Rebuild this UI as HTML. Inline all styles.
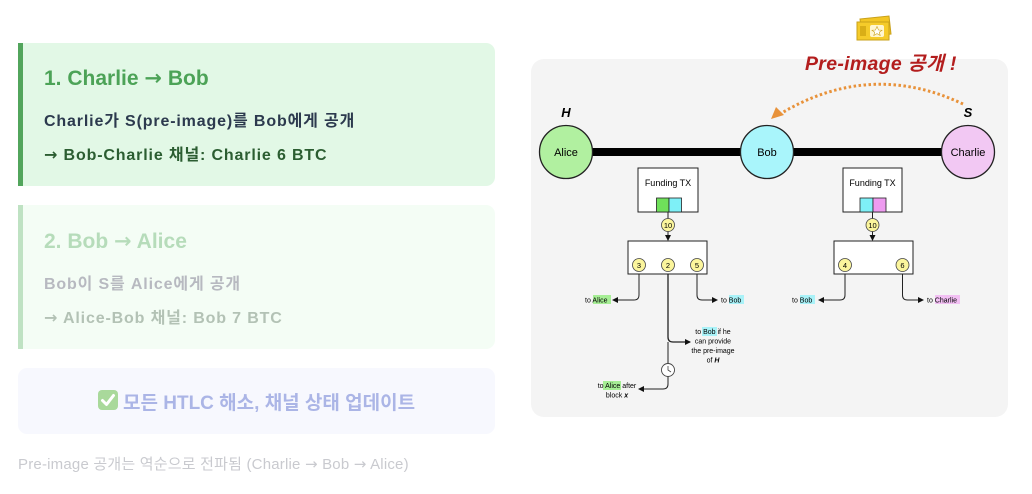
<!DOCTYPE html>
<html><head><meta charset="utf-8"><style>
*{margin:0;padding:0;box-sizing:border-box}
body{width:1032px;height:494px;background:#fff;position:relative;overflow:hidden;font-family:"Liberation Sans","Noto Sans CJK KR",sans-serif}
.card{position:absolute;left:18px;width:477px;border-radius:0 9px 9px 0}
.c1{top:43px;height:143px;background:#e2f8e6;border-left:5px solid #52a55c}
.c2{top:205px;height:144px;background:#f4fdf5;border-left:5px solid #bfe2c3}
.t{position:absolute;left:21px;font-weight:bold;white-space:nowrap}
.s{font-size:16px;letter-spacing:0.85px}
.c3{position:absolute;left:18px;top:368px;width:477px;height:66px;background:#f7f8fe;border-radius:9px}
.ar{font-family:"DejaVu Sans",sans-serif}
</style></head><body>
<div class="card c1">
 <div class="t" style="top:23px;font-size:21px;color:#4ca357">1. Charlie <span class="ar">→</span> Bob</div>
 <div class="t s" style="top:64px;color:#2c3a4e">Charlie가 S(pre-image)를 Bob에게 공개</div>
 <div class="t s" style="top:98px;color:#2b5d31"><span class="ar">→</span> Bob-Charlie 채널: Charlie 6 BTC</div>
</div>
<div class="card c2">
 <div class="t" style="top:24px;font-size:21px;color:#b6dcba">2. Bob <span class="ar">→</span> Alice</div>
 <div class="t s" style="top:65px;color:#b7b9c0">Bob이 S를 Alice에게 공개</div>
 <div class="t s" style="top:99px;color:#b3c2b5"><span class="ar">→</span> Alice-Bob 채널: Bob 7 BTC</div>
</div>
<div class="c3">
 <svg style="position:absolute;left:80px;top:22px" width="20" height="20" viewBox="0 0 20 20"><rect x="0" y="0" width="20" height="20" rx="4" fill="#a9d99b"/><path d="M4.5 10.5 L8.5 14.5 L15.5 5.5" stroke="#fff" stroke-width="3" fill="none" stroke-linecap="round" stroke-linejoin="round"/></svg>
 <div style="position:absolute;left:105px;top:20px;font-size:19px;font-weight:bold;color:#abb5e6;white-space:nowrap">모든 HTLC 해소, 채널 상태 업데이트</div>
</div>
<div style="position:absolute;left:18px;top:453px;font-size:15px;letter-spacing:0.2px;color:#c9cacf;white-space:nowrap">Pre-image 공개는 역순으로 전파됨 (Charlie <span class="ar">→</span> Bob <span class="ar">→</span> Alice)</div>

<svg style="position:absolute;left:0;top:0" width="1032" height="494" viewBox="0 0 1032 494" font-family="Liberation Sans, sans-serif">
 <defs>
  <marker id="ar" markerWidth="6" markerHeight="6" refX="5" refY="3" orient="auto" markerUnits="userSpaceOnUse"><path d="M0 0 L6 3 L0 6 Z" fill="#111"/></marker>
 </defs>
 <rect x="531" y="59" width="477" height="358" rx="13" fill="#f4f4f4"/>
 <!-- ticket icon -->
 <g transform="translate(856,16)">
  <path d="M4 3 L33 0 L35 18 L6 21 Z" fill="#f3c623" stroke="#c9a11a" stroke-width="1"/>
  <rect x="1" y="6" width="32" height="18" fill="#f5cb2a" stroke="#c9a11a" stroke-width="1"/>
  <rect x="4" y="10" width="6" height="10" fill="#d9ae17"/>
  <rect x="14" y="9" width="14" height="12" rx="2" fill="#fff6d0"/>
  <path d="M21 10.5 L22.5 14 L26 14.2 L23.3 16.3 L24.2 19.5 L21 17.6 L17.8 19.5 L18.7 16.3 L16 14.2 L19.5 14 Z" fill="#fff" stroke="#c9a11a" stroke-width="0.6"/>
 </g>
 <text x="805" y="70" font-size="19.5" letter-spacing="0.3" font-weight="bold" font-style="italic" fill="#b31d1d" font-family="Liberation Sans, Noto Sans CJK KR, sans-serif">Pre-image 공개 !</text>
 <!-- orange dotted arc -->
 <path d="M963 104 Q870 60 780 114" stroke="#e8923a" stroke-width="3" fill="none" stroke-dasharray="2.5 2.5"/>
 <path d="M771 119 L776 107 L784 115 Z" fill="#e8923a"/>
 <!-- channel line -->
 <rect x="590" y="148" width="360" height="8" fill="#000"/>
 <text x="566" y="117" font-size="13" font-weight="bold" font-style="italic" text-anchor="middle">H</text>
 <text x="968" y="117" font-size="13" font-weight="bold" font-style="italic" text-anchor="middle">S</text>
 <circle cx="566" cy="152" r="26.5" fill="#b1f0a0" stroke="#222" stroke-width="1.3"/>
 <circle cx="767" cy="152" r="26.5" fill="#a9f5fb" stroke="#222" stroke-width="1.3"/>
 <circle cx="968" cy="152" r="26.5" fill="#f2c8f3" stroke="#222" stroke-width="1.3"/>
 <text x="566" y="156" font-size="11" text-anchor="middle">Alice</text>
 <text x="767" y="156" font-size="11" text-anchor="middle">Bob</text>
 <text x="968" y="156" font-size="11" text-anchor="middle">Charlie</text>

 <!-- left funding -->
 <rect x="638" y="168" width="60" height="44" fill="#fff" stroke="#222" stroke-width="1"/>
 <text x="668" y="186" font-size="9" text-anchor="middle">Funding TX</text>
 <rect x="656.5" y="198" width="12.5" height="14" fill="#6fe05a" stroke="#222" stroke-width="0.8"/>
 <rect x="669" y="198" width="12.5" height="14" fill="#7ef0f7" stroke="#222" stroke-width="0.8"/>
 <line x1="668" y1="212" x2="668" y2="240" stroke="#222" stroke-width="1" marker-end="url(#ar)"/>
 <circle cx="668" cy="225" r="6.5" fill="#fbf59c" stroke="#444" stroke-width="0.8"/>
 <text x="668" y="228" font-size="7.5" text-anchor="middle">10</text>
 <rect x="628" y="241" width="79" height="33" fill="#fff" stroke="#222" stroke-width="1"/>
 <g font-size="7.5" text-anchor="middle">
  <circle cx="639" cy="265" r="6.5" fill="#fbf59c" stroke="#444" stroke-width="0.8"/><text x="639" y="268">3</text>
  <circle cx="668" cy="265" r="6.5" fill="#fbf59c" stroke="#444" stroke-width="0.8"/><text x="668" y="268">2</text>
  <circle cx="697" cy="265" r="6.5" fill="#fbf59c" stroke="#444" stroke-width="0.8"/><text x="697" y="268">5</text>
 </g>
 <path d="M639 274 V295 Q639 300 634 300 H613" stroke="#222" stroke-width="1" fill="none" marker-end="url(#ar)"/>
 <path d="M697 274 V295 Q697 300 702 300 H717" stroke="#222" stroke-width="1" fill="none" marker-end="url(#ar)"/>
 <path d="M668 274 V337 Q668 342 673 342 H690" stroke="#222" stroke-width="1.3" fill="none" marker-end="url(#ar)"/>
 <path d="M668 342 V384 Q668 389 663 389 H639" stroke="#222" stroke-width="1" fill="none" marker-end="url(#ar)"/>
 <circle cx="668" cy="370" r="6.5" fill="#fff" stroke="#444" stroke-width="0.9"/>
 <path d="M668 366 V370 L671 372" stroke="#444" stroke-width="0.8" fill="none"/>
 <g font-size="7">
  <rect x="593" y="295" width="18" height="9" fill="#a6ee95"/>
  <text x="585" y="302.5">to Alice</text>
  <rect x="729" y="295" width="15" height="9" fill="#a9f2f8"/>
  <text x="721" y="302.5">to Bob</text>
  <rect x="702" y="327" width="15" height="9" fill="#a9f2f8"/>
  <text x="713" y="334" text-anchor="middle">to Bob if he</text>
  <text x="713" y="343.5" text-anchor="middle">can provide</text>
  <text x="713" y="353" text-anchor="middle">the pre-image</text>
  <text x="713" y="362.5" text-anchor="middle">of <tspan font-weight="bold" font-style="italic">H</tspan></text>
  <rect x="603" y="381" width="18" height="9" fill="#a6ee95"/>
  <text x="617" y="388" text-anchor="middle">to Alice after</text>
  <text x="617" y="397.5" text-anchor="middle">block <tspan font-weight="bold" font-style="italic">x</tspan></text>
 </g>

 <!-- right funding -->
 <rect x="843" y="168" width="59" height="44" fill="#fff" stroke="#222" stroke-width="1"/>
 <text x="872.5" y="186" font-size="9" text-anchor="middle">Funding TX</text>
 <rect x="860" y="198" width="13" height="14" fill="#7ef0f7" stroke="#222" stroke-width="0.8"/>
 <rect x="873" y="198" width="13" height="14" fill="#ee9bf0" stroke="#222" stroke-width="0.8"/>
 <line x1="872.5" y1="212" x2="872.5" y2="240" stroke="#222" stroke-width="1" marker-end="url(#ar)"/>
 <circle cx="872.5" cy="225" r="6.5" fill="#fbf59c" stroke="#444" stroke-width="0.8"/>
 <text x="872.5" y="228" font-size="7.5" text-anchor="middle">10</text>
 <rect x="834" y="241" width="79" height="33" fill="#fff" stroke="#222" stroke-width="1"/>
 <g font-size="7.5" text-anchor="middle">
  <circle cx="845" cy="265" r="6.5" fill="#fbf59c" stroke="#444" stroke-width="0.8"/><text x="845" y="268">4</text>
  <circle cx="902.5" cy="265" r="6.5" fill="#fbf59c" stroke="#444" stroke-width="0.8"/><text x="902.5" y="268">6</text>
 </g>
 <path d="M845 274 V295 Q845 300 840 300 H819" stroke="#222" stroke-width="1" fill="none" marker-end="url(#ar)"/>
 <path d="M902.5 274 V295 Q902.5 300 907.5 300 H923" stroke="#222" stroke-width="1" fill="none" marker-end="url(#ar)"/>
 <g font-size="7">
  <rect x="800" y="295" width="15" height="9" fill="#a9f2f8"/>
  <text x="792" y="302.5">to Bob</text>
  <rect x="935" y="295" width="25" height="9" fill="#f2c0f3"/>
  <text x="927" y="302.5">to Charlie</text>
 </g>
</svg>
</body></html>
